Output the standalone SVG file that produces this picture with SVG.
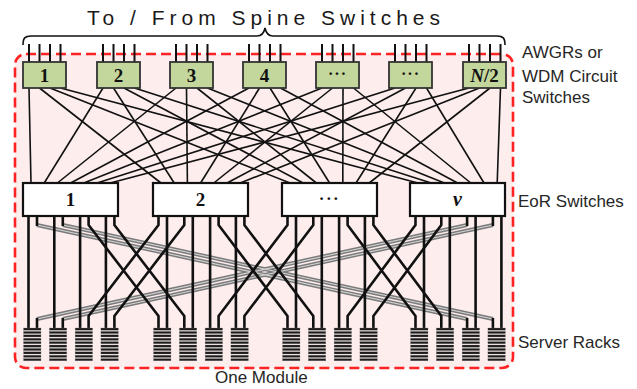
<svg xmlns="http://www.w3.org/2000/svg" xmlns:xlink="http://www.w3.org/1999/xlink" width="637" height="389" viewBox="0 0 637 389">
<style>
.lbl{font-family:"Liberation Sans","Noto Sans",sans-serif;font-size:17px;fill:#262626}
.ttl{font-family:"Liberation Sans","Noto Sans",sans-serif;font-size:21px;fill:#1a1a1a}
.gb{fill:#c3d69b;stroke:#333;stroke-width:1.8}
.eb{fill:#fff;stroke:#111;stroke-width:2.2}
.nt{font-family:"Liberation Serif","DejaVu Serif",serif;font-weight:bold;fill:#111;text-anchor:middle}
.up line{stroke:#111;stroke-width:1.6}
.dn{fill:none;stroke:#111;stroke-width:2.6;stroke-linejoin:round}
.gy{fill:none;stroke:#7a7a7a;stroke-width:4}
.gyc{fill:none;stroke:#d4d4d4;stroke-width:1.1}
.tk line{stroke:#111;stroke-width:2}
</style>
<defs>
<g id="rackShape" fill="#1a1a1a" stroke="#888" stroke-width="0.3">
<rect x="0" y="0" width="17.5" height="2.2"/>
<rect x="0" y="3.4" width="17.5" height="2.2"/>
<rect x="0" y="6.8" width="17.5" height="2.2"/>
<rect x="0" y="10.2" width="17.5" height="2.2"/>
<rect x="0" y="13.6" width="17.5" height="2.2"/>
<rect x="0" y="17" width="17.5" height="2.2"/>
<rect x="0" y="20.4" width="17.5" height="2.2"/>
<rect x="0" y="23.8" width="17.5" height="2.2"/>
<rect x="0" y="27.2" width="17.5" height="2.2"/>
<rect x="0" y="30.6" width="17.5" height="2.2"/>
</g>
</defs>
<rect width="637" height="389" fill="#fff"/>
<g id="module">
<rect x="15" y="54" width="498" height="314" rx="11" fill="#fdeded" stroke="#ff2222" stroke-width="2.6" stroke-dasharray="10 5"/>
</g>
<g id="spine">
<path d="M23,45 C23,38 25,36 31,36 L257,36 C262,36 264,33 265,28 C266,33 268,36 273,36 L497,36 C503,36 505,38 505,45" fill="none" stroke="#111" stroke-width="1.6"/>
<text class="ttl" x="87" y="25" textLength="353" lengthAdjust="spacing">To / From Spine Switches</text>
<g class="tk">
<line x1="29" y1="44" x2="29" y2="62"/><line x1="39.5" y1="44" x2="39.5" y2="62"/><line x1="50" y1="44" x2="50" y2="62"/><line x1="60.5" y1="44" x2="60.5" y2="62"/>
<line x1="103" y1="44" x2="103" y2="62"/><line x1="113.5" y1="44" x2="113.5" y2="62"/><line x1="124" y1="44" x2="124" y2="62"/><line x1="134.5" y1="44" x2="134.5" y2="62"/>
<line x1="176" y1="44" x2="176" y2="62"/><line x1="186.5" y1="44" x2="186.5" y2="62"/><line x1="197" y1="44" x2="197" y2="62"/><line x1="207.5" y1="44" x2="207.5" y2="62"/>
<line x1="249" y1="44" x2="249" y2="62"/><line x1="259.5" y1="44" x2="259.5" y2="62"/><line x1="270" y1="44" x2="270" y2="62"/><line x1="280.5" y1="44" x2="280.5" y2="62"/>
<line x1="322" y1="44" x2="322" y2="62"/><line x1="332.5" y1="44" x2="332.5" y2="62"/><line x1="343" y1="44" x2="343" y2="62"/><line x1="353.5" y1="44" x2="353.5" y2="62"/>
<line x1="395" y1="44" x2="395" y2="62"/><line x1="405.5" y1="44" x2="405.5" y2="62"/><line x1="416" y1="44" x2="416" y2="62"/><line x1="426.5" y1="44" x2="426.5" y2="62"/>
<line x1="469" y1="44" x2="469" y2="62"/><line x1="479.5" y1="44" x2="479.5" y2="62"/><line x1="490" y1="44" x2="490" y2="62"/><line x1="500.5" y1="44" x2="500.5" y2="62"/>
</g>
</g>
<g id="connectors">
<g class="up">
<line x1="29" y1="88" x2="31" y2="183"/><line x1="39.5" y1="88" x2="161" y2="183"/><line x1="50" y1="88" x2="290" y2="183"/><line x1="60.5" y1="88" x2="418" y2="183"/>
<line x1="103" y1="88" x2="44.2" y2="183"/><line x1="113.5" y1="88" x2="174.2" y2="183"/><line x1="124" y1="88" x2="303.2" y2="183"/><line x1="134.5" y1="88" x2="431.2" y2="183"/>
<line x1="176" y1="88" x2="57.4" y2="183"/><line x1="186.5" y1="88" x2="187.4" y2="183"/><line x1="197" y1="88" x2="316.4" y2="183"/><line x1="207.5" y1="88" x2="444.4" y2="183"/>
<line x1="249" y1="88" x2="70.6" y2="183"/><line x1="259.5" y1="88" x2="200.6" y2="183"/><line x1="270" y1="88" x2="329.6" y2="183"/><line x1="280.5" y1="88" x2="457.6" y2="183"/>
<line x1="322" y1="88" x2="83.8" y2="183"/><line x1="332.5" y1="88" x2="213.8" y2="183"/><line x1="343" y1="88" x2="342.8" y2="183"/><line x1="353.5" y1="88" x2="470.8" y2="183"/>
<line x1="395" y1="88" x2="97" y2="183"/><line x1="405.5" y1="88" x2="227" y2="183"/><line x1="416" y1="88" x2="356" y2="183"/><line x1="426.5" y1="88" x2="484" y2="183"/>
<line x1="469" y1="88" x2="110.2" y2="183"/><line x1="479.5" y1="88" x2="240.2" y2="183"/><line x1="490" y1="88" x2="369.2" y2="183"/><line x1="500.5" y1="88" x2="497.2" y2="183"/>
</g>
<g id="gray-links">
<path class="gy" d="M37,225 L467.1,319"/><path class="gy" d="M62.8,225 L492.9,319"/>
<path class="gy" d="M467.1,225 L37,319"/><path class="gy" d="M492.9,225 L62.8,319"/>
<path class="gyc" d="M37,225 L467.1,319"/><path class="gyc" d="M62.8,225 L492.9,319"/>
<path class="gyc" d="M467.1,225 L37,319"/><path class="gyc" d="M492.9,225 L62.8,319"/>
<path class="dn" d="M37,216V226M62.8,216V226M467.1,216V226M492.9,216V226M37,318V328M62.8,318V328M467.1,318V328M492.9,318V328"/>
</g>
<g id="down-links">
<path class="dn" d="M28.5,216V328M54.3,216V328M80.1,216V328M105.9,216V328M167,216V328M192.8,216V328M210.1,216V328M235.9,216V328M296,216V328M321.8,216V328M339.1,216V328M364.9,216V328M424,216V328M449.8,216V328M475.6,216V328M501.4,216V328"/>
<path class="dn" d="M88.6,216V225L158.5,316V328M114.4,216V225L184.3,316V328M158.5,216V225L88.6,316V328M184.3,216V225L114.4,316V328"/>
<path class="dn" d="M218.6,216V225L287.5,316V328M244.4,216V225L313.3,316V328M287.5,216V225L218.6,316V328M313.3,216V225L244.4,316V328"/>
<path class="dn" d="M347.6,216V225L415.5,316V328M373.4,216V225L441.3,316V328M415.5,216V225L347.6,316V328M441.3,216V225L373.4,316V328"/>
</g>
</g>
<g id="awgr-1"><rect class="gb" x="23" y="62" width="43" height="26"/><text class="nt" x="44.5" y="81.5" font-size="19">1</text></g>
<g id="awgr-2"><rect class="gb" x="97" y="62" width="43" height="26"/><text class="nt" x="118.5" y="81.5" font-size="19">2</text></g>
<g id="awgr-3"><rect class="gb" x="170" y="62" width="43" height="26"/><text class="nt" x="191.5" y="81.5" font-size="19">3</text></g>
<g id="awgr-4"><rect class="gb" x="243" y="62" width="43" height="26"/><text class="nt" x="264.5" y="81.5" font-size="19">4</text></g>
<g id="awgr-5"><rect class="gb" x="316" y="62" width="43" height="26"/><text class="nt" x="337.5" y="79" font-size="16" letter-spacing="1">···</text></g>
<g id="awgr-6"><rect class="gb" x="389" y="62" width="43" height="26"/><text class="nt" x="410.5" y="79" font-size="16" letter-spacing="1">···</text></g>
<g id="awgr-n2"><rect class="gb" x="463" y="62" width="43" height="26"/><text class="nt" x="484.5" y="81.5" font-size="19"><tspan font-style="italic">N</tspan>/2</text></g>
<g id="eor-1"><rect class="eb" x="23" y="183" width="95" height="33"/><text class="nt" x="70.5" y="206" font-size="19">1</text></g>
<g id="eor-2"><rect class="eb" x="153" y="183" width="95" height="33"/><text class="nt" x="200.5" y="206" font-size="19">2</text></g>
<g id="eor-3"><rect class="eb" x="282" y="183" width="95" height="33"/><text class="nt" x="329.5" y="204" font-size="17" letter-spacing="1.5">···</text></g>
<g id="eor-v"><rect class="eb" x="410" y="183" width="95" height="33"/><text class="nt" x="457.5" y="206" font-size="20" font-style="italic">ν</text></g>
<g id="racks">
<g id="rack-1"><use xlink:href="#rackShape" x="23.5" y="328"/></g>
<g id="rack-2"><use xlink:href="#rackShape" x="49.3" y="328"/></g>
<g id="rack-3"><use xlink:href="#rackShape" x="75.1" y="328"/></g>
<g id="rack-4"><use xlink:href="#rackShape" x="100.9" y="328"/></g>
<g id="rack-5"><use xlink:href="#rackShape" x="153.5" y="328"/></g>
<g id="rack-6"><use xlink:href="#rackShape" x="179.3" y="328"/></g>
<g id="rack-7"><use xlink:href="#rackShape" x="205.1" y="328"/></g>
<g id="rack-8"><use xlink:href="#rackShape" x="230.9" y="328"/></g>
<g id="rack-9"><use xlink:href="#rackShape" x="282.5" y="328"/></g>
<g id="rack-10"><use xlink:href="#rackShape" x="308.3" y="328"/></g>
<g id="rack-11"><use xlink:href="#rackShape" x="334.1" y="328"/></g>
<g id="rack-12"><use xlink:href="#rackShape" x="359.9" y="328"/></g>
<g id="rack-13"><use xlink:href="#rackShape" x="410.5" y="328"/></g>
<g id="rack-14"><use xlink:href="#rackShape" x="436.3" y="328"/></g>
<g id="rack-15"><use xlink:href="#rackShape" x="462.1" y="328"/></g>
<g id="rack-16"><use xlink:href="#rackShape" x="487.9" y="328"/></g>
</g>
<g id="labels">
<text class="lbl" x="522" y="58">AWGRs or</text>
<text class="lbl" x="522" y="82">WDM Circuit</text>
<text class="lbl" x="522" y="103">Switches</text>
<text class="lbl" x="518" y="207">EoR Switches</text>
<text class="lbl" x="518" y="348">Server Racks</text>
<text class="lbl" x="215" y="383">One Module</text>
</g>
</svg>
